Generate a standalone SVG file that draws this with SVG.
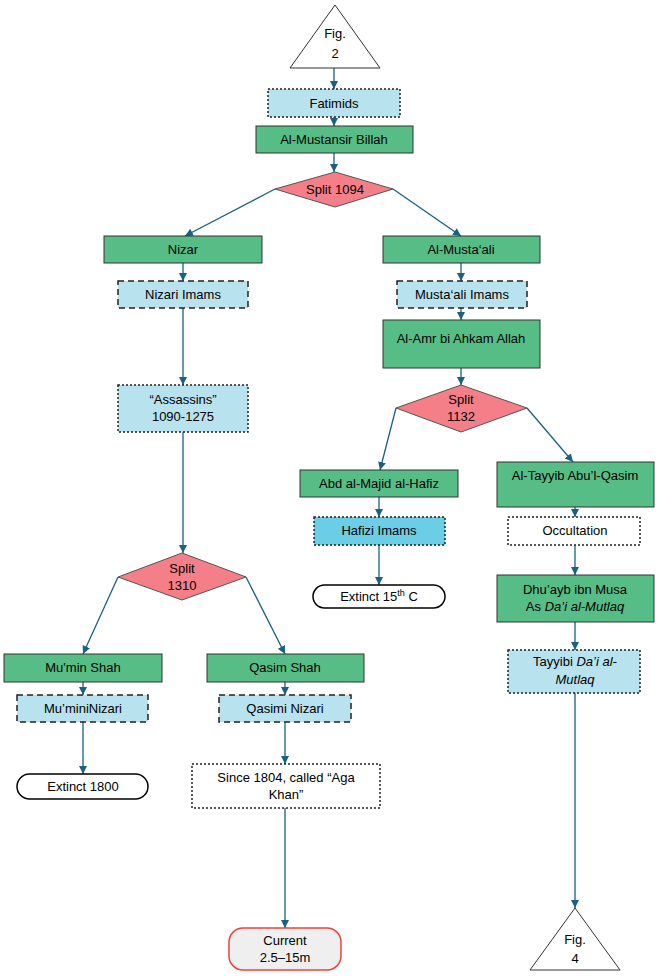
<svg xmlns="http://www.w3.org/2000/svg" width="658" height="976" viewBox="0 0 658 976">
<defs>
<style>
text{font-family:"Liberation Sans",Arial,sans-serif;font-size:13px;fill:#000;text-anchor:middle}
.g{fill:#57bd86;stroke:#333;stroke-width:1}
.b{fill:#b8e2ee;stroke:#222;stroke-width:1.5}
.dot{stroke-dasharray:2 2}
.dash{stroke-dasharray:6 4}
.d{fill:#f47f89;stroke:#555;stroke-width:1}
.c{fill:none;stroke:#1a6080;stroke-width:1.3;marker-end:url(#a)}
</style>
<marker id="a" markerWidth="10" markerHeight="10" refX="8" refY="4" orient="auto" markerUnits="userSpaceOnUse"><path d="M0,0 L8,4 L0,8 z" fill="#1a6080"/></marker>
</defs>
<rect width="658" height="976" fill="#fff"/>
<g id="connectors">
<path class="c" d="M334,68 V89"/>
<path class="c" d="M334,117 V126"/>
<path class="c" d="M334,153 V172"/>
<path class="c" d="M275,189 L185,236"/>
<path class="c" d="M393,189 L461,236"/>
<path class="c" d="M183,263 V281"/>
<path class="c" d="M461,263 V281"/>
<path class="c" d="M183,308 V385"/>
<path class="c" d="M461,308 V320"/>
<path class="c" d="M183,432 V553"/>
<path class="c" d="M461,368 V385"/>
<path class="c" d="M396,408 L380,470"/>
<path class="c" d="M527,408 L573,462"/>
<path class="c" d="M379,497 V517"/>
<path class="c" d="M379,545 V585"/>
<path class="c" d="M575,507 V517"/>
<path class="c" d="M575,545 V575"/>
<path class="c" d="M575,622 V650"/>
<path class="c" d="M575,693 V908"/>
<path class="c" d="M118,577 L83,654"/>
<path class="c" d="M246,577 L285,654"/>
<path class="c" d="M83,682 V695"/>
<path class="c" d="M285,682 V695"/>
<path class="c" d="M83,722 V774"/>
<path class="c" d="M285,722 V764"/>
<path class="c" d="M285,808 V928"/>
</g>
<g id="fig2"><path d="M335,5 L380,68 L290,68 Z" fill="#fff" stroke="#333"/><text x="335" y="38">Fig.</text><text x="335" y="58">2</text></g>
<g id="fatimids"><rect class="b dot" x="268" y="89" width="132" height="28"/><text x="334" y="108">Fatimids</text></g>
<g id="mustansir"><rect class="g" x="256" y="126" width="157" height="27"/><text x="334" y="144">Al-Mustansir Billah</text></g>
<g id="split1094"><path class="d" d="M275,189 L335,172 L393,189 L335,207 Z"/><text x="335" y="194">Split 1094</text></g>
<g id="nizar"><rect class="g" x="104" y="236" width="158" height="27"/><text x="183" y="254">Nizar</text></g>
<g id="mustaali"><rect class="g" x="383" y="236" width="157" height="27"/><text x="461" y="254">Al-Musta‘ali</text></g>
<g id="nizariImams"><rect class="b dash" x="118" y="281" width="130" height="27"/><text x="183" y="299">Nizari Imams</text></g>
<g id="mustaaliImams"><rect class="b dash" x="397" y="281" width="130" height="27"/><text x="462" y="299">Musta‘ali Imams</text></g>
<g id="amr"><rect class="g" x="383" y="320" width="157" height="48"/><text x="461" y="343">Al-Amr bi Ahkam Allah</text></g>
<g id="assassins"><rect class="b dot" x="118" y="385" width="130" height="47"/><text x="183" y="404">“Assassins”</text><text x="183" y="421">1090-1275</text></g>
<g id="split1132"><path class="d" d="M396,408 L461,385 L527,408 L461,432 Z"/><text x="461" y="404">Split</text><text x="461" y="421">1132</text></g>
<g id="hafiz"><rect class="g" x="300" y="470" width="158" height="27"/><text x="379" y="488">Abd al-Majid al-Hafiz</text></g>
<g id="hafiziImams"><rect class="b dot" style="fill:#6ccde6" x="314" y="517" width="131" height="28"/><text x="379" y="535">Hafizi Imams</text></g>
<g id="extinct15"><rect x="313" y="585" width="132" height="23" rx="11.5" fill="#fff" stroke="#000" stroke-width="1.5"/><text x="379" y="601">Extinct 15<tspan font-size="9" dy="-5">th</tspan><tspan dy="5"> C</tspan></text></g>
<g id="tayyib"><rect class="g" x="497" y="462" width="157" height="45"/><text x="575" y="480">Al-Tayyib Abu’l-Qasim</text></g>
<g id="occultation"><rect class="dot" x="508" y="517" width="132" height="28" fill="#fff" stroke="#222" stroke-width="1.5"/><text x="575" y="535">Occultation</text></g>
<g id="dhuayb"><rect class="g" x="497" y="575" width="157" height="47"/><text x="575" y="594">Dhu’ayb ibn Musa</text><text x="575" y="611">As <tspan font-style="italic">Da’i al-Mutlaq</tspan></text></g>
<g id="tayyibi"><rect class="b dot" x="508" y="650" width="132" height="43"/><text x="575" y="666">Tayyibi <tspan font-style="italic">Da’i al-</tspan></text><text x="575" y="684" font-style="italic">Mutlaq</text></g>
<g id="fig4"><path d="M575,908 L620,970 L530,970 Z" fill="#fff" stroke="#333"/><text x="575" y="944">Fig.</text><text x="575" y="963">4</text></g>
<g id="split1310"><path class="d" d="M118,577 L182,553 L246,577 L182,600 Z"/><text x="182" y="573">Split</text><text x="182" y="590">1310</text></g>
<g id="muminShah"><rect class="g" x="4" y="654" width="158" height="28"/><text x="83" y="672">Mu'min Shah</text></g>
<g id="qasimShah"><rect class="g" x="207" y="654" width="157" height="28"/><text x="285" y="672">Qasim Shah</text></g>
<g id="muminiNizari"><rect class="b dash" x="17" y="695" width="131" height="27"/><text x="83" y="713">Mu’miniNizari</text></g>
<g id="qasimiNizari"><rect class="b dash" x="219" y="695" width="132" height="27"/><text x="285" y="713">Qasimi Nizari</text></g>
<g id="extinct1800"><rect x="17" y="774" width="131" height="25" rx="12.5" fill="#fff" stroke="#000" stroke-width="1.5"/><text x="83" y="791">Extinct 1800</text></g>
<g id="since1804"><rect class="dot" x="192" y="764" width="188" height="44" fill="#fff" stroke="#222" stroke-width="1.5"/><text x="286" y="782">Since 1804, called “Aga</text><text x="286" y="799">Khan”</text></g>
<g id="current"><rect x="229" y="928" width="112" height="42" rx="14" fill="#efefef" stroke="#e8453c" stroke-width="1.5"/><text x="285" y="945">Current</text><text x="285" y="962">2.5–15m</text></g>
</svg>
